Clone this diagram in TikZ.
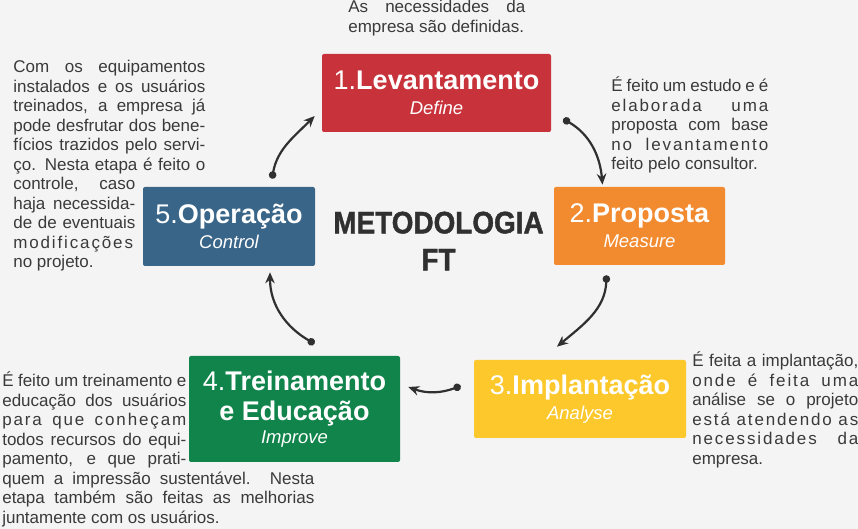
\documentclass[tikz,border=0pt]{standalone}
\usepackage{fontspec}
\setmainfont{Liberation Sans}
\newfontfamily\heavyfont[FakeBold=1.5]{Liberation Sans Bold}
\usepackage{tikz}
\usetikzlibrary{arrows.meta}

\definecolor{levred}{RGB}{200,50,58}
\definecolor{proorange}{RGB}{242,138,48}
\definecolor{impyellow}{RGB}{252,200,43}
\definecolor{trngreen}{RGB}{17,132,75}
\definecolor{opblue}{RGB}{57,101,136}
\definecolor{bggray}{RGB}{244,244,244}
\definecolor{notegray}{RGB}{58,58,58}
\definecolor{flowgray}{RGB}{48,48,48}

\newcommand{\stagesub}[1]{{\fontsize{18.5}{20}\selectfont\itshape #1}}
\newcommand{\spaced}[1]{{\addfontfeature{LetterSpace=11}#1}}

\begin{document}
\begin{tikzpicture}[x=1pt,y=1pt,>={Stealth[length=11pt,width=9.5pt]},semithick]
\tikzstyle{stage}=[rectangle,rounded corners=2pt,draw=none,text=white,align=center,inner sep=0pt,minimum height=78pt,font=\fontsize{27}{25}\selectfont]
\tikzstyle{note}=[anchor=base west,inner sep=0pt,align=justify,text=notegray,font=\fontsize{17}{19.5}\selectfont]
\tikzset{flow/.style={{Circle[length=7.5pt]}->,line width=2.2pt,draw=flowgray}}

        \fill[bggray] (0,0) rectangle (858,529);
        \useasboundingbox (0,0) rectangle (858,529);

        \node[stage, fill=levred, minimum width=229pt]                          (lev)   at (436.5,436)   {1.\textbf{Levantamento}\\\stagesub{Define}};
        \node[stage, fill=proorange, minimum width=171pt]                       (pro)   at (639.5,303)   {2.\textbf{Proposta}\\\stagesub{Measure}};
        \node[stage, fill=impyellow, minimum width=212pt]                       (imp)   at (580,130)     {3.\textbf{Implantação}\\\stagesub{Analyse}};
        \node[stage, fill=trngreen, minimum width=211pt, minimum height=106pt]  (trn)   at (294.5,120)   {4.\textbf{Treinamento}\\[5pt]\textbf{e Educação}\\[-2pt]\stagesub{Improve}};
        \node[stage, fill=opblue, minimum width=172pt, minimum height=79pt]     (op)    at (229,302.5)   {5.\textbf{Operação}\\\stagesub{Control}};

        \node[align=center, inner sep=0pt, text=flowgray, transform shape, xscale=0.9,
              font=\fontsize{31}{37}\heavyfont]                                 (title) at (438.5,288)   {METODOLOGIA\\FT};

        \node[note, text width=177pt]   (levnote) at (348,516) {As necessidades da\linebreak empresa são definidas.};
        \node[note, text width=157pt]   (pronote) at (611,437) {É feito um estudo e é\linebreak \spaced{elaborada uma}\linebreak proposta com base\linebreak \spaced{no levantamento}\linebreak feito pelo consultor.};
        \node[note, text width=166pt]   (impnote) at (692,162) {É feita a implantação,\linebreak \spaced{onde é feita uma}\linebreak análise se o projeto\linebreak \spaced{está atendendo as}\linebreak \spaced{necessidades da}\linebreak empresa.};
        \node[note, text width=312pt]   (trnnote) at (2,142)   {\parshape 6 0pt 184pt 0pt 184pt 0pt 184pt 0pt 184pt 0pt 184pt 0pt 312pt
              É feito um treinamento e\linebreak educação dos usuários\linebreak \spaced{para que conheçam}\linebreak todos recursos do equi-\linebreak pamento, e que prati-\linebreak quem a impressão sustentável. Nesta\linebreak etapa também são feitas as melhorias\linebreak juntamente com os usuários.\par};
        \node[note, text width=192pt]   (opnote)  at (13,456)  {\parshape 7 0pt 192pt 0pt 192pt 0pt 192pt 0pt 192pt 0pt 192pt 0pt 192pt 0pt 122pt
              Com os equipamentos\linebreak instalados e os usuários\linebreak treinados, a empresa já\linebreak pode desfrutar dos bene-\linebreak fícios trazidos pelo servi-\linebreak ço. Nesta etapa é feito o\linebreak controle, caso\linebreak haja necessida-\linebreak de de eventuais\linebreak \spaced{modificações}\linebreak no projeto.\par};

        \path
        ([xshift=43pt,yshift=8pt]op.north)     edge[flow,out=80,in=225]   ([xshift=-7pt,yshift=-23pt]lev.west)
        ([xshift=12pt,yshift=-26pt]lev.east)   edge[flow,out=-30,in=95]   ([xshift=-37pt,yshift=2pt]pro.north)
        ([xshift=-33pt,yshift=-10pt]pro.south) edge[flow,out=-92,in=40]   ([xshift=-23pt,yshift=13pt]imp.north)
        ([xshift=-13pt,yshift=13pt]imp.west)   edge[flow,out=200,in=-20]  ([xshift=8pt,yshift=22pt]trn.east)
        ([xshift=20pt,yshift=12pt]trn.north)   edge[flow,out=150,in=-90]  ([xshift=41pt,yshift=-6pt]op.south)
        ; %end path

\end{tikzpicture}
\end{document}
